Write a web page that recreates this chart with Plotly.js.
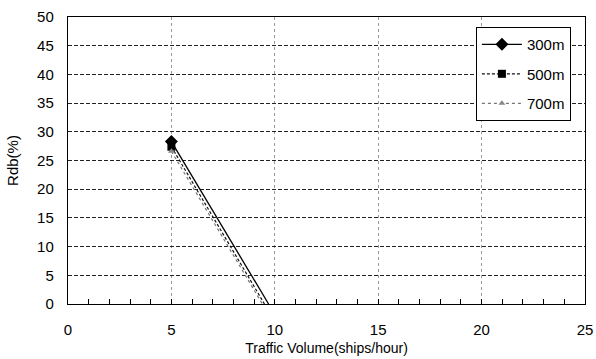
<!DOCTYPE html>
<html>
<head>
<meta charset="utf-8">
<script src="https://cdn.plot.ly/plotly-3.0.1.min.js"></script>
<style>
  html, body { margin: 0; padding: 0; background: #fff; }
  #chart { width: 596px; height: 359px; }
</style>
</head>
<body>
<div id="chart"></div>
<script>
// Rdb versus traffic volume for three passing distances
const seriesNames = ['300m', '500m', '700m'];
const x300 = [5, 9.7];
const y300 = [28.3, 0];
const x500 = [5, 9.5];
const y500 = [27.4, 0];
const x700 = [5, 9.4];
const y700 = [26.6, 0];
const xTicks = [0, 5, 10, 15, 20, 25];
const yTicks = [0, 5, 10, 15, 20, 25, 30, 35, 40, 45, 50];

const fontFam = '"Liberation Sans Narrow", "Liberation Sans", Arial, sans-serif';
const titleFam = '"Liberation Sans", Arial, sans-serif';

const styles = [
  { line: { color: '#000', width: 1.3, dash: 'solid' },
    marker: { symbol: 'diamond', size: 10, color: '#000' } },
  { line: { color: '#111', width: 1.2, dash: '3px,2px' },
    marker: { symbol: 'square', size: 8, color: '#000' } },
  { line: { color: '#777', width: 1.2, dash: 'dot' },
    marker: { symbol: 'triangle-up', size: 6, color: '#888' } }
];
const xs = [x300, x500, x700];
const ys = [y300, y500, y700];

const traces = [];
seriesNames.forEach((name, i) => {
  // full line of the series
  traces.push({
    name: name, x: xs[i], y: ys[i], mode: 'lines',
    legendgroup: name, showlegend: false,
    line: styles[i].line, hoverinfo: 'skip'
  });
  // marker on the first point; this trace also supplies the legend entry
  traces.push({
    name: name, x: xs[i].slice(0, 1), y: ys[i].slice(0, 1), mode: 'lines+markers',
    legendgroup: name, showlegend: true,
    line: styles[i].line, marker: styles[i].marker
  });
});

const layout = {
  width: 596, height: 359,
  margin: { l: 68, r: 11, t: 17, b: 55 },
  paper_bgcolor: '#fff', plot_bgcolor: '#fff',
  font: { family: fontFam, size: 15, color: '#000' },
  showlegend: true,
  legend: {
    x: 0.789, y: 0.965, xanchor: 'left', yanchor: 'top',
    bordercolor: '#000', borderwidth: 1, bgcolor: '#fff',
    traceorder: 'grouped', tracegroupgap: 7,
    font: { family: titleFam, size: 15, color: '#000' },
    itemwidth: 40
  },
  xaxis: {
    range: [0, 25], tickvals: xTicks, ticktext: xTicks.map(String),
    showline: true, linecolor: '#000', linewidth: 1.2, mirror: true,
    ticks: 'inside', ticklen: 5, tickcolor: '#000',
    ticklabelstandoff: 12,
    showgrid: true, gridcolor: '#999', griddash: 'dot', gridwidth: 1,
    zeroline: false,
    minor: { dtick: 1, ticks: 'inside', ticklen: 5, tickcolor: '#000', showgrid: false },
    title: { text: 'Traffic Volume(ships/hour)', standoff: 6,
             font: { family: titleFam, size: 14, color: '#000' } }
  },
  yaxis: {
    range: [0, 50], tickvals: yTicks, ticktext: yTicks.map(String),
    showline: true, linecolor: '#000', linewidth: 1.2, mirror: true,
    ticks: '', ticklabelstandoff: 10,
    showgrid: true, gridcolor: '#222', griddash: '4px,2px', gridwidth: 1,
    zeroline: false,
    title: { text: 'Rdb(%)', standoff: 14,
             font: { family: titleFam, size: 15, color: '#000' } }
  }
};

Plotly.newPlot('chart', traces, layout, { staticPlot: true, displayModeBar: false });
</script>
</body>
</html>
